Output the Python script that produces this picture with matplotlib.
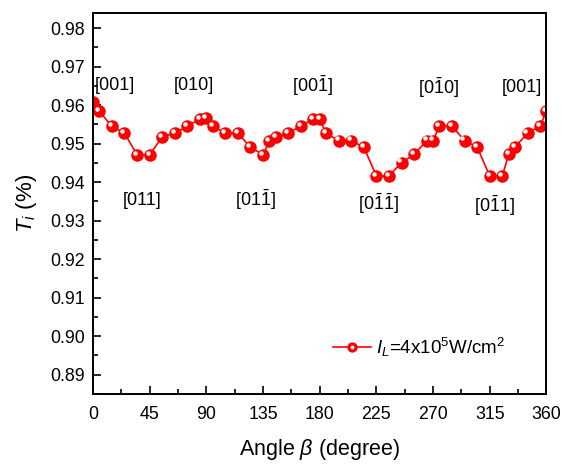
import matplotlib
matplotlib.use("Agg")
import matplotlib.pyplot as plt
import matplotlib.transforms as mtransforms
from matplotlib.ticker import MultipleLocator, FormatStrFormatter

plt.rcParams['font.family'] = ['Liberation Sans', 'DejaVu Sans']
plt.rcParams['mathtext.fontset'] = 'custom'
plt.rcParams['mathtext.rm'] = 'Liberation Sans'
plt.rcParams['mathtext.it'] = 'Liberation Sans:italic'

# data
angle = [0, 5, 15, 25, 35, 45, 55, 65, 75, 85, 90, 95, 105, 115, 125, 135,
         140, 145, 155, 165, 175, 180, 185, 195, 205, 215, 225, 235, 245, 255,
         265, 270, 275, 285, 295, 305, 315, 325, 330, 335, 345, 355, 360]
trans = [0.9607, 0.9584, 0.9545, 0.9527, 0.9471, 0.9471, 0.9518, 0.9527,
         0.9546, 0.9564, 0.9566, 0.9546, 0.9527, 0.9527, 0.9491, 0.9471,
         0.9506, 0.9517, 0.9527, 0.9546, 0.9564, 0.9564, 0.9527, 0.9508,
         0.9508, 0.9491, 0.9416, 0.9416, 0.9451, 0.9472, 0.9508, 0.9508,
         0.9546, 0.9546, 0.9508, 0.9491, 0.9416, 0.9416, 0.9472, 0.9491,
         0.9527, 0.9546, 0.9584]

bar1 = r'$\mathrm{\bar{1}}$'
label_text = ['[001]', '[010]', '[00' + bar1 + ']', '[0' + bar1 + '0]', '[001]',
              '[011]', '[01' + bar1 + ']', '[0' + bar1 + bar1 + ']', '[0' + bar1 + '1]']
label_x = [17.5, 80.3, 174.3, 274.4, 340.7, 39.2, 129.3, 226.8, 318.7]
label_y = [0.9651, 0.9651, 0.9651, 0.9645, 0.9645, 0.9353, 0.9353, 0.9345, 0.9340]

fig = plt.figure(figsize=(5.61, 4.65), dpi=100)
ax = fig.add_axes([0.1658, 0.1527, 0.8082, 0.82])

line, = ax.plot(angle, trans, color='red', linewidth=1.2, marker='o', markersize=8,
                markerfacecolor='red', markeredgecolor='red')
# white highlight on the balls
hl = mtransforms.offset_copy(ax.transData, fig=fig, x=-1.5, y=1.5, units='points')
spot, = ax.plot(angle, trans, linestyle='none', marker='o', markersize=2.2,
                color='white', transform=hl)

for t, x, y in zip(label_text, label_x, label_y):
    ax.text(x, y, t, fontsize=13, ha='center', va='center')

ax.set_xlim(0, 360)
ax.set_ylim(0.885, 0.984)
ax.xaxis.set_major_locator(MultipleLocator(45))
ax.xaxis.set_minor_locator(MultipleLocator(22.5))
ax.yaxis.set_major_locator(MultipleLocator(0.01))
ax.yaxis.set_minor_locator(MultipleLocator(0.005))
ax.yaxis.set_major_formatter(FormatStrFormatter('%.2f'))
ax.tick_params(which='both', direction='in', top=False, right=False,
               labelsize=12.8, width=1.2)
ax.tick_params(which='major', length=6)
ax.tick_params(which='minor', length=3.5)
ax.tick_params(axis='x', pad=9)
ax.tick_params(axis='y', pad=6)
for s in ax.spines.values():
    s.set_linewidth(1.4)

ax.set_xlabel(r'Angle $\beta$ (degree)', fontsize=15.5, labelpad=10)
ax.set_ylabel(r'$T_i$ (%)', fontsize=16, labelpad=8)

ax.legend([(line, spot)], [r'$I_L$=4x10$^5$W/cm$^2$'],
          loc='center', bbox_to_anchor=(0.72, 0.123), frameon=False,
          fontsize=13.5, handlelength=2.0, handletextpad=0.3, markerscale=0.8)

fig.savefig('out.png', dpi=100)
